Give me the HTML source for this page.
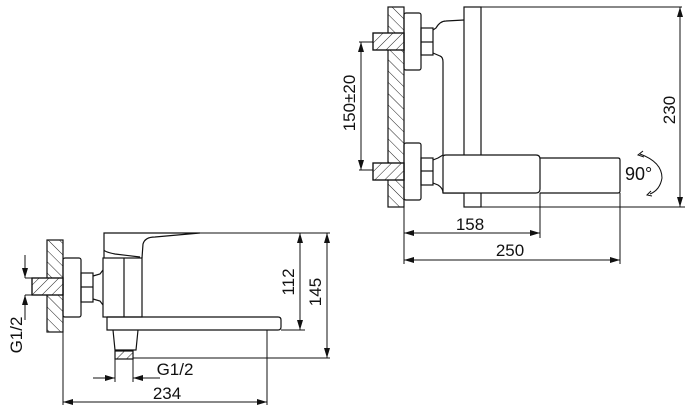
<!DOCTYPE html>
<html><head><meta charset="utf-8"><style>
html,body{margin:0;padding:0;background:#fff;}
svg{display:block;}
text{font-family:"Liberation Sans",sans-serif;font-size:17px;fill:#111;}
</style></head><body>
<svg width="685" height="413" viewBox="0 0 685 413" xmlns="http://www.w3.org/2000/svg">
<defs>
<pattern id="h1" patternUnits="userSpaceOnUse" width="8" height="8" patternTransform="rotate(-45)">
<line x1="0" y1="0" x2="0" y2="8" stroke="#222" stroke-width="1"/></pattern>
<pattern id="h2" patternUnits="userSpaceOnUse" width="7" height="7" patternTransform="rotate(45)">
<line x1="0" y1="0" x2="0" y2="7" stroke="#222" stroke-width="1"/></pattern>
<marker id="a" markerWidth="10" markerHeight="6" refX="10" refY="3" orient="auto-start-reverse" markerUnits="userSpaceOnUse">
<path d="M0,0 L10,3 L0,6 z" fill="#111"/></marker>
</defs>
<g fill="none" stroke="#111" stroke-width="1.2">
<!-- LEFT VIEW -->
<rect x="47" y="240" width="16" height="92" fill="url(#h1)"/>
<rect x="32" y="278" width="31" height="17" fill="#fff"/>
<rect x="32" y="278" width="31" height="17" fill="url(#h2)"/>
<rect x="63" y="258" width="18" height="59" rx="2"/>
<rect x="81" y="273" width="12" height="29"/>
<line x1="81" y1="287" x2="93" y2="287"/>
<path d="M93,276 L100,274 L103,270 M93,299 L100,301 L103,305"/>
<rect x="103" y="258" width="39" height="59"/>
<line x1="124" y1="258" x2="124" y2="317"/>
<path d="M104,258 L104,250 Q105,252 115,254 L140,257 M142,258 L143,244 Q145,237 155,237 L200,233 L104,233 L104,250"/>
<line x1="200" y1="233" x2="330" y2="233" stroke-width="1"/>
<path d="M107,317 L107,330 L278,330 Q281,330 281,327 L281,320 Q281,317 278,317 L107,317"/>
<path d="M113,330 L115,350 L136,350 L138,330"/>
<rect x="115" y="351" width="18" height="8" fill="url(#h2)"/>
<line x1="115" y1="359" x2="115" y2="382" stroke-width="1"/>
<line x1="133" y1="359" x2="133" y2="382" stroke-width="1"/>
<line x1="133" y1="358" x2="330" y2="358" stroke-width="1"/>
<line x1="281" y1="330" x2="305" y2="330" stroke-width="1"/>
<line x1="267" y1="330" x2="267" y2="405" stroke-width="1"/>
<line x1="63" y1="332" x2="63" y2="405" stroke-width="1"/>
<g stroke-width="1">
<line x1="93" y1="378" x2="115" y2="378" marker-end="url(#a)"/>
<line x1="160" y1="378" x2="133" y2="378" marker-end="url(#a)"/>
<line x1="63" y1="402" x2="267" y2="402" marker-start="url(#a)" marker-end="url(#a)"/>
<line x1="300" y1="233" x2="300" y2="330" marker-start="url(#a)" marker-end="url(#a)"/>
<line x1="327" y1="233" x2="327" y2="358" marker-start="url(#a)" marker-end="url(#a)"/>
<line x1="25" y1="255" x2="25" y2="278" marker-end="url(#a)"/>
<line x1="25" y1="320" x2="25" y2="295" marker-end="url(#a)"/>
<line x1="25" y1="278" x2="32" y2="278"/>
<line x1="25" y1="295" x2="32" y2="295"/>
</g>
<!-- RIGHT VIEW -->
<rect x="388" y="7" width="16" height="200" fill="url(#h1)"/>
<rect x="373" y="33" width="31" height="17" fill="#fff"/>
<rect x="373" y="33" width="31" height="17" fill="url(#h2)"/>
<rect x="373" y="163" width="31" height="17" fill="#fff"/>
<rect x="373" y="163" width="31" height="17" fill="url(#h2)"/>
<rect x="404" y="13" width="17" height="57" rx="2"/>
<rect x="404" y="143" width="17" height="57" rx="2"/>
<rect x="421" y="28" width="12" height="27"/>
<line x1="421" y1="42" x2="433" y2="42"/>
<rect x="421" y="158" width="12" height="27"/>
<line x1="421" y1="171" x2="433" y2="171"/>
<path d="M433,30 L436,28 Q440,21 446,21 L464,20 M433,53 L440,56 Q443,57 443,62 L443,155 M433,160 L438,158 L443,155 M433,183 L438,185 Q443,188 443,193 L464,193"/>
<rect x="464" y="7" width="17" height="200"/>
<line x1="481" y1="7" x2="682" y2="7" stroke-width="1"/>
<line x1="481" y1="207" x2="685" y2="207" stroke-width="1"/>
<path d="M443,193 L443,157 Q443,155 446,155 L536,155 Q540,155 540,159 L540,189 Q540,193 536,193 L443,193" fill="#fff"/>
<path d="M540,158 L618,158 Q620,158 620,160 L620,191 Q620,193 618,193 L540,193"/>
<path d="M640,154 Q662,162 662,178 Q660,190 650,194" stroke-width="1"/>
<path d="M643,151 L638,155 L644,157" stroke-width="1"/>
<path d="M652,196 L647,195 L651,191" stroke-width="1"/>
<line x1="404" y1="207" x2="404" y2="264" stroke-width="1"/>
<line x1="540" y1="193" x2="540" y2="238" stroke-width="1"/>
<line x1="620" y1="193" x2="620" y2="264" stroke-width="1"/>
<g stroke-width="1">
<line x1="404" y1="233" x2="540" y2="233" marker-start="url(#a)" marker-end="url(#a)"/>
<line x1="404" y1="260" x2="620" y2="260" marker-start="url(#a)" marker-end="url(#a)"/>
<line x1="680" y1="7" x2="680" y2="207" marker-start="url(#a)" marker-end="url(#a)"/>
<line x1="361" y1="42" x2="361" y2="170" marker-start="url(#a)" marker-end="url(#a)"/>
<line x1="359" y1="42" x2="373" y2="42"/>
<line x1="359" y1="170" x2="373" y2="170"/>
</g>
</g>
<text x="175" y="375" text-anchor="middle">G1/2</text>
<text x="167" y="399" text-anchor="middle">234</text>
<text transform="translate(294,282) rotate(-90)" text-anchor="middle">112</text>
<text transform="translate(321,292) rotate(-90)" text-anchor="middle">145</text>
<text transform="translate(22,335) rotate(-90)" text-anchor="middle">G1/2</text>
<text x="470" y="230" text-anchor="middle">158</text>
<text x="510" y="256" text-anchor="middle">250</text>
<text transform="translate(675,110) rotate(-90)" text-anchor="middle">230</text>
<text transform="translate(355,103) rotate(-90)" text-anchor="middle">150±20</text>
<text x="625" y="180" style="font-size:18px">90°</text>
</svg>
</body></html>
